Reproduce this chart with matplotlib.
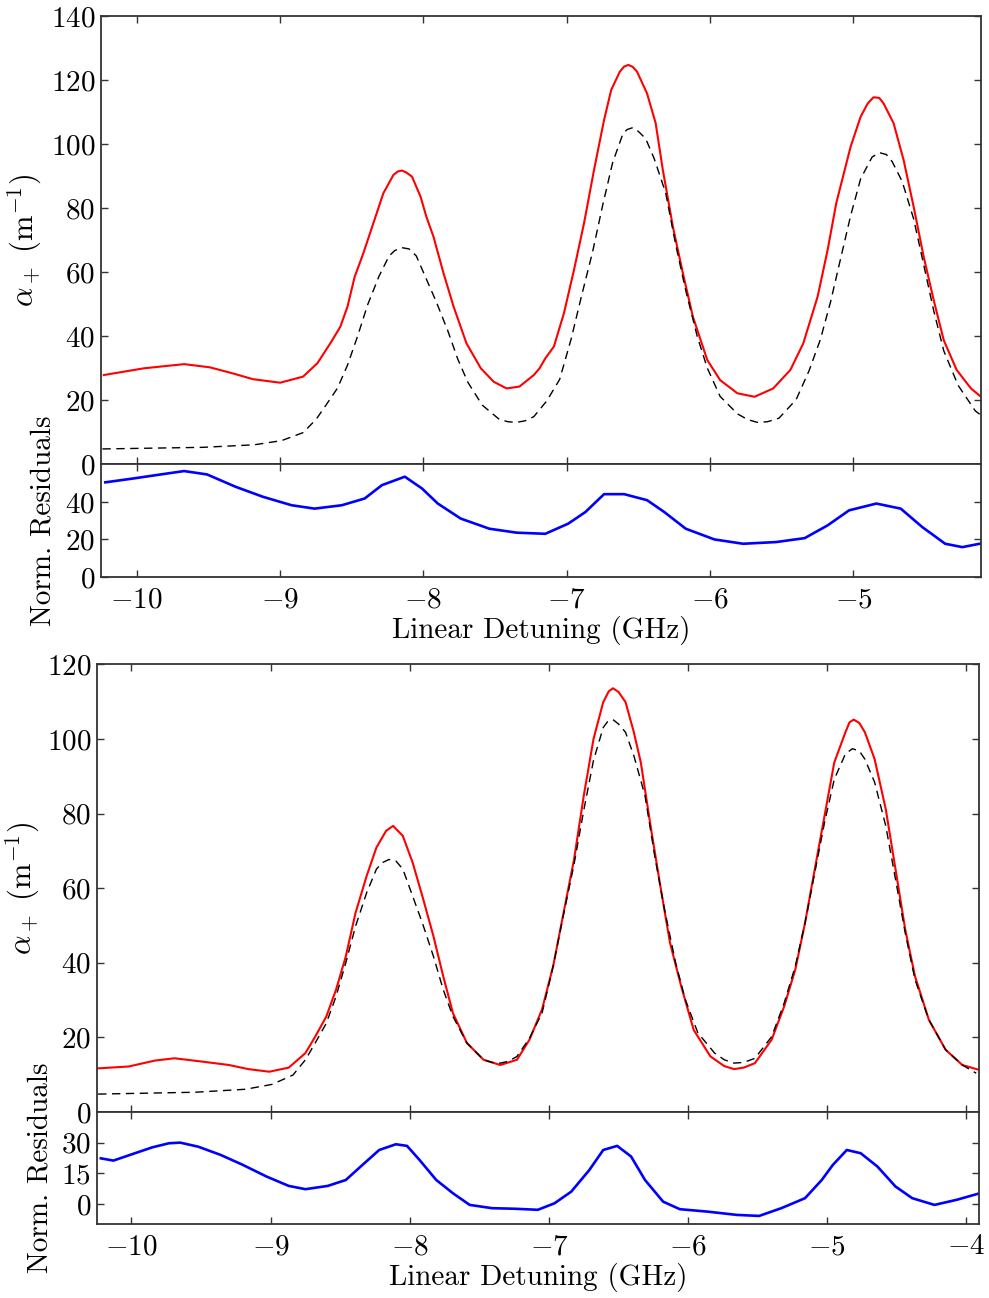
import matplotlib
matplotlib.use("Agg")
import matplotlib.pyplot as plt

plt.rcParams['font.family'] = ['cmr10', 'DejaVu Serif']
plt.rcParams['mathtext.fontset'] = 'cm'
plt.rcParams['axes.formatter.use_mathtext'] = True
plt.rcParams['axes.unicode_minus'] = True

# ---------------- data ----------------
# Top panel: measured alpha_+ (red)
top_x = [-10.23, -9.95, -9.67, -9.49, -9.33, -9.19, -9.00, -8.84, -8.74, -8.65,
         -8.58, -8.53, -8.48, -8.42, -8.35, -8.28, -8.21, -8.18, -8.15, -8.12, -8.08, -8.02,
         -7.98, -7.93, -7.86, -7.79, -7.70, -7.60, -7.51, -7.42, -7.33, -7.23,
         -7.19, -7.15, -7.09, -7.02, -6.95, -6.88, -6.81, -6.74, -6.69, -6.63,
         -6.60, -6.57, -6.54, -6.51, -6.44, -6.38, -6.33, -6.26, -6.19, -6.12, -6.02, -5.93,
         -5.81, -5.69, -5.56, -5.44, -5.35, -5.25, -5.18, -5.12, -5.02, -4.95,
         -4.90, -4.86, -4.82, -4.79, -4.72, -4.65, -4.58, -4.51, -4.44, -4.37, -4.28, -4.18, -4.11]
top_y = [27.9, 30.0, 31.3, 30.3, 28.4, 26.6, 25.5, 27.4, 31.6, 37.8,
         43.0, 49.3, 58.6, 65.9, 75.3, 84.7, 90.4, 91.5, 91.8, 91.2, 89.9, 83.6,
         77.4, 71.1, 59.7, 49.3, 37.8, 30.0, 25.8, 23.7, 24.3, 27.9,
         30.0, 33.1, 36.8, 47.2, 60.7, 75.3, 92.0, 107.6, 117.0, 122.7,
         124.3, 124.8, 124.2, 122.7, 115.9, 106.6, 92.0, 74.3, 59.7, 46.1, 32.6, 26.3,
         22.2, 21.1, 23.7, 29.5, 37.8, 52.4, 67.0, 81.6, 99.2, 108.6,
         112.8, 114.7, 114.5, 112.8, 106.6, 95.1, 80.5, 64.9, 51.3, 38.8, 29.5, 23.7, 21.1]

# Top panel: normalised residuals (blue)
top_res_x = [-10.22, -10.02, -9.86, -9.67, -9.51, -9.31, -9.12, -8.92, -8.76, -8.57,
             -8.41, -8.29, -8.13, -8.01, -7.90, -7.74, -7.54, -7.35, -7.15, -6.99,
             -6.87, -6.74, -6.60, -6.44, -6.32, -6.17, -5.97, -5.77, -5.54, -5.34,
             -5.18, -5.03, -4.84, -4.67, -4.52, -4.36, -4.24, -4.12]
top_res_y = [50.4, 52.5, 54.3, 56.4, 54.6, 48.0, 42.7, 38.2, 36.4, 38.2,
             41.8, 48.9, 53.4, 47.1, 39.1, 31.1, 25.7, 23.6, 23.0, 28.4,
             34.6, 44.1, 44.1, 40.9, 34.6, 25.7, 20.0, 17.7, 18.6, 20.7,
             27.5, 35.5, 39.1, 36.4, 26.6, 17.7, 15.9, 17.7]

# Theory (black dashed), same in both panels
th_x = [-10.24, -9.54, -9.18, -8.99, -8.84, -8.75, -8.68, -8.60, -8.53, -8.46,
        -8.39, -8.31, -8.24, -8.20, -8.15, -8.10, -8.05, -7.98, -7.91, -7.83, -7.76, -7.69,
        -7.59, -7.47, -7.41, -7.35, -7.29, -7.23, -7.14, -7.05, -6.97, -6.90, -6.82, -6.75,
        -6.68, -6.61, -6.58, -6.54, -6.50, -6.45, -6.39, -6.31, -6.24, -6.17, -6.09, -6.02,
        -5.93, -5.81, -5.74, -5.67, -5.60, -5.52, -5.40, -5.31, -5.23, -5.16, -5.09, -5.02,
        -4.95, -4.87, -4.82, -4.77, -4.73, -4.66, -4.58, -4.51, -4.44, -4.37, -4.27,
        -4.15, -4.03, -3.93]
th_y = [4.8, 5.3, 6.1, 7.4, 9.9, 14.0, 18.5, 23.8, 31.0, 40.0,
        49.8, 58.8, 65.1, 66.8, 67.7, 67.3, 65.1, 57.9, 50.7, 41.7, 32.8, 25.6,
        18.5, 14.0, 13.3, 13.1, 13.6, 14.9, 19.8, 26.5, 39.1, 52.1, 66.4, 80.9,
        94.3, 103.1, 104.6, 105.2, 104.0, 101.8, 95.5, 84.8, 68.6, 54.3, 40.0, 30.1,
        21.2, 15.8, 14.0, 13.1, 13.3, 14.4, 20.2, 29.2, 39.1, 50.7, 64.2, 77.6,
        89.2, 96.0, 97.4, 96.8, 94.6, 88.4, 76.7, 62.4, 48.0, 35.5, 24.7,
        16.7, 12.6, 10.4]

# Bottom panel: measured alpha_+ (red)
bot_x = [-10.24, -10.02, -9.83, -9.69, -9.49, -9.30, -9.16, -9.01, -8.87, -8.75,
         -8.68, -8.60, -8.53, -8.46, -8.39, -8.31, -8.24, -8.17, -8.12, -8.05,
         -7.98, -7.91, -7.83, -7.76, -7.69, -7.59, -7.47, -7.35, -7.23, -7.14,
         -7.05, -6.97, -6.90, -6.82, -6.75, -6.68, -6.61, -6.57, -6.54, -6.50, -6.45, -6.39,
         -6.34, -6.27, -6.20, -6.13, -6.05, -5.96, -5.84, -5.74, -5.67, -5.60, -5.52, -5.40,
         -5.31, -5.23, -5.16, -5.09, -5.02, -4.95, -4.87, -4.84, -4.81, -4.77, -4.73, -4.66,
         -4.58, -4.51, -4.44, -4.37, -4.27, -4.15, -4.03, -3.91]
bot_y = [11.7, 12.2, 13.8, 14.4, 13.5, 12.6, 11.5, 10.8, 11.9, 15.8,
         20.2, 25.6, 32.8, 41.7, 53.4, 63.3, 70.9, 75.4, 76.7, 74.0,
         66.9, 57.9, 47.1, 36.4, 26.5, 18.5, 14.0, 12.6, 14.0, 19.4,
         27.5, 39.1, 52.5, 67.7, 84.8, 100.0, 109.9, 112.8, 113.6, 112.6, 109.9, 101.8,
         93.7, 76.7, 60.6, 45.3, 33.7, 22.0, 14.9, 12.3, 11.5, 11.9, 13.1, 19.4,
         28.3, 38.2, 50.7, 65.1, 79.4, 93.7, 101.8, 104.5, 105.2, 104.3, 101.8, 94.6,
         81.2, 65.1, 48.9, 36.4, 24.7, 16.7, 12.6, 11.3]

# Bottom panel: normalised residuals (blue)
bot_res_x = [-10.22, -10.13, -10.01, -9.85, -9.73, -9.65, -9.52, -9.36, -9.20, -9.03,
             -8.87, -8.75, -8.59, -8.46, -8.34, -8.22, -8.10, -8.02, -7.93, -7.81,
             -7.69, -7.57, -7.41, -7.24, -7.08, -6.96, -6.84, -6.71, -6.61, -6.51,
             -6.41, -6.31, -6.18, -6.06, -5.86, -5.65, -5.49, -5.33, -5.16, -5.04,
             -4.96, -4.86, -4.76, -4.64, -4.51, -4.39, -4.23, -4.07, -3.92]
bot_res_y = [22.3, 21.2, 24.0, 27.7, 29.7, 30.0, 28.0, 24.0, 19.1, 13.4,
             8.8, 7.2, 8.8, 11.7, 19.1, 26.4, 29.2, 28.4, 21.5, 11.7,
             5.2, -0.5, -2.1, -2.4, -2.9, 0.3, 6.0, 16.6, 26.4, 28.4,
             23.2, 11.7, 1.1, -2.6, -3.8, -5.4, -5.9, -2.1, 2.8, 11.7,
             19.1, 26.4, 24.8, 18.3, 8.5, 2.8, -0.5, 2.0, 4.9]

top_main_yticks = [0, 20, 40, 60, 80, 100, 120, 140]
top_res_yticks = [0, 20, 40]
bot_main_yticks = [0, 20, 40, 60, 80, 100, 120]
bot_res_yticks = [0, 15, 30]
top_xticks = [-10, -9, -8, -7, -6, -5]
bot_xticks = [-10, -9, -8, -7, -6, -5, -4]

xlabel = 'Linear Detuning (GHz)'
ylabel_main = r'$\alpha_+\ (\mathrm{m}^{-1})$'
ylabel_res = 'Norm. Residuals'

# ---------------- figure ----------------
W, H = 989, 1298
fig = plt.figure(figsize=(W / 100, H / 100), dpi=100)

FS = 21
SPINE = '#333333'


def px_rect(l, r, t, b):
    return [l / W, 1 - b / H, (r - l) / W, (b - t) / H]


def style(ax):
    for s in ax.spines.values():
        s.set_color(SPINE)
        s.set_linewidth(1.3)
    ax.tick_params(direction='in', top=True, right=True, length=5, width=1,
                   color=SPINE, labelsize=FS)
    ax.tick_params(axis='y', pad=4)
    ax.tick_params(axis='x', pad=7)


# top block
ax1 = fig.add_axes(px_rect(101, 981, 16.3, 464.3))
ax2 = fig.add_axes(px_rect(101, 981, 464.3, 577), sharex=ax1)
# bottom block
ax3 = fig.add_axes(px_rect(96.7, 979, 664.4, 1112))
ax4 = fig.add_axes(px_rect(96.7, 979, 1112, 1224.3), sharex=ax3)

for ax in (ax1, ax2, ax3, ax4):
    style(ax)

RED_LW, BLUE_LW = 1.5, 1.9

ax1.plot(top_x, top_y, color='#ff0000', lw=RED_LW)
ax1.plot(th_x, th_y, color='black', lw=1.0, dashes=(6, 4))
ax1.set_ylim(0, 140)
ax1.set_yticks(top_main_yticks)
ax1.set_xlim(-10.25, -4.11)
ax1.tick_params(labelbottom=False)
ax1.set_ylabel(ylabel_main, fontsize=FS + 1)
ax1.yaxis.set_label_coords(-0.065, 0.5)

ax2.plot(top_res_x, top_res_y, color='#0000ff', lw=BLUE_LW)
ax2.set_ylim(0, 60)
ax2.set_yticks(top_res_yticks)
ax2.set_xticks(top_xticks)
ax2.set_xlabel(xlabel, fontsize=FS, labelpad=2)
ax2.set_ylabel(ylabel_res, fontsize=FS)
ax2.yaxis.set_label_coords(-0.05, 0.5)

ax3.plot(bot_x, bot_y, color='#ff0000', lw=RED_LW)
ax3.plot(th_x, th_y, color='black', lw=1.0, dashes=(6, 4))
ax3.set_ylim(0, 120)
ax3.set_yticks(bot_main_yticks)
ax3.set_xlim(-10.25, -3.91)
ax3.tick_params(labelbottom=False)
ax3.set_ylabel(ylabel_main, fontsize=FS + 1)
ax3.yaxis.set_label_coords(-0.062, 0.5)

ax4.plot(bot_res_x, bot_res_y, color='#0000ff', lw=BLUE_LW)
ax4.set_ylim(-10, 45)
ax4.set_yticks(bot_res_yticks)
ax4.set_xticks(bot_xticks)
ax4.set_xlabel(xlabel, fontsize=FS, labelpad=2)
ax4.set_ylabel(ylabel_res, fontsize=FS)
ax4.yaxis.set_label_coords(-0.0495, 0.5)

fig.savefig('out.png', dpi=100)
